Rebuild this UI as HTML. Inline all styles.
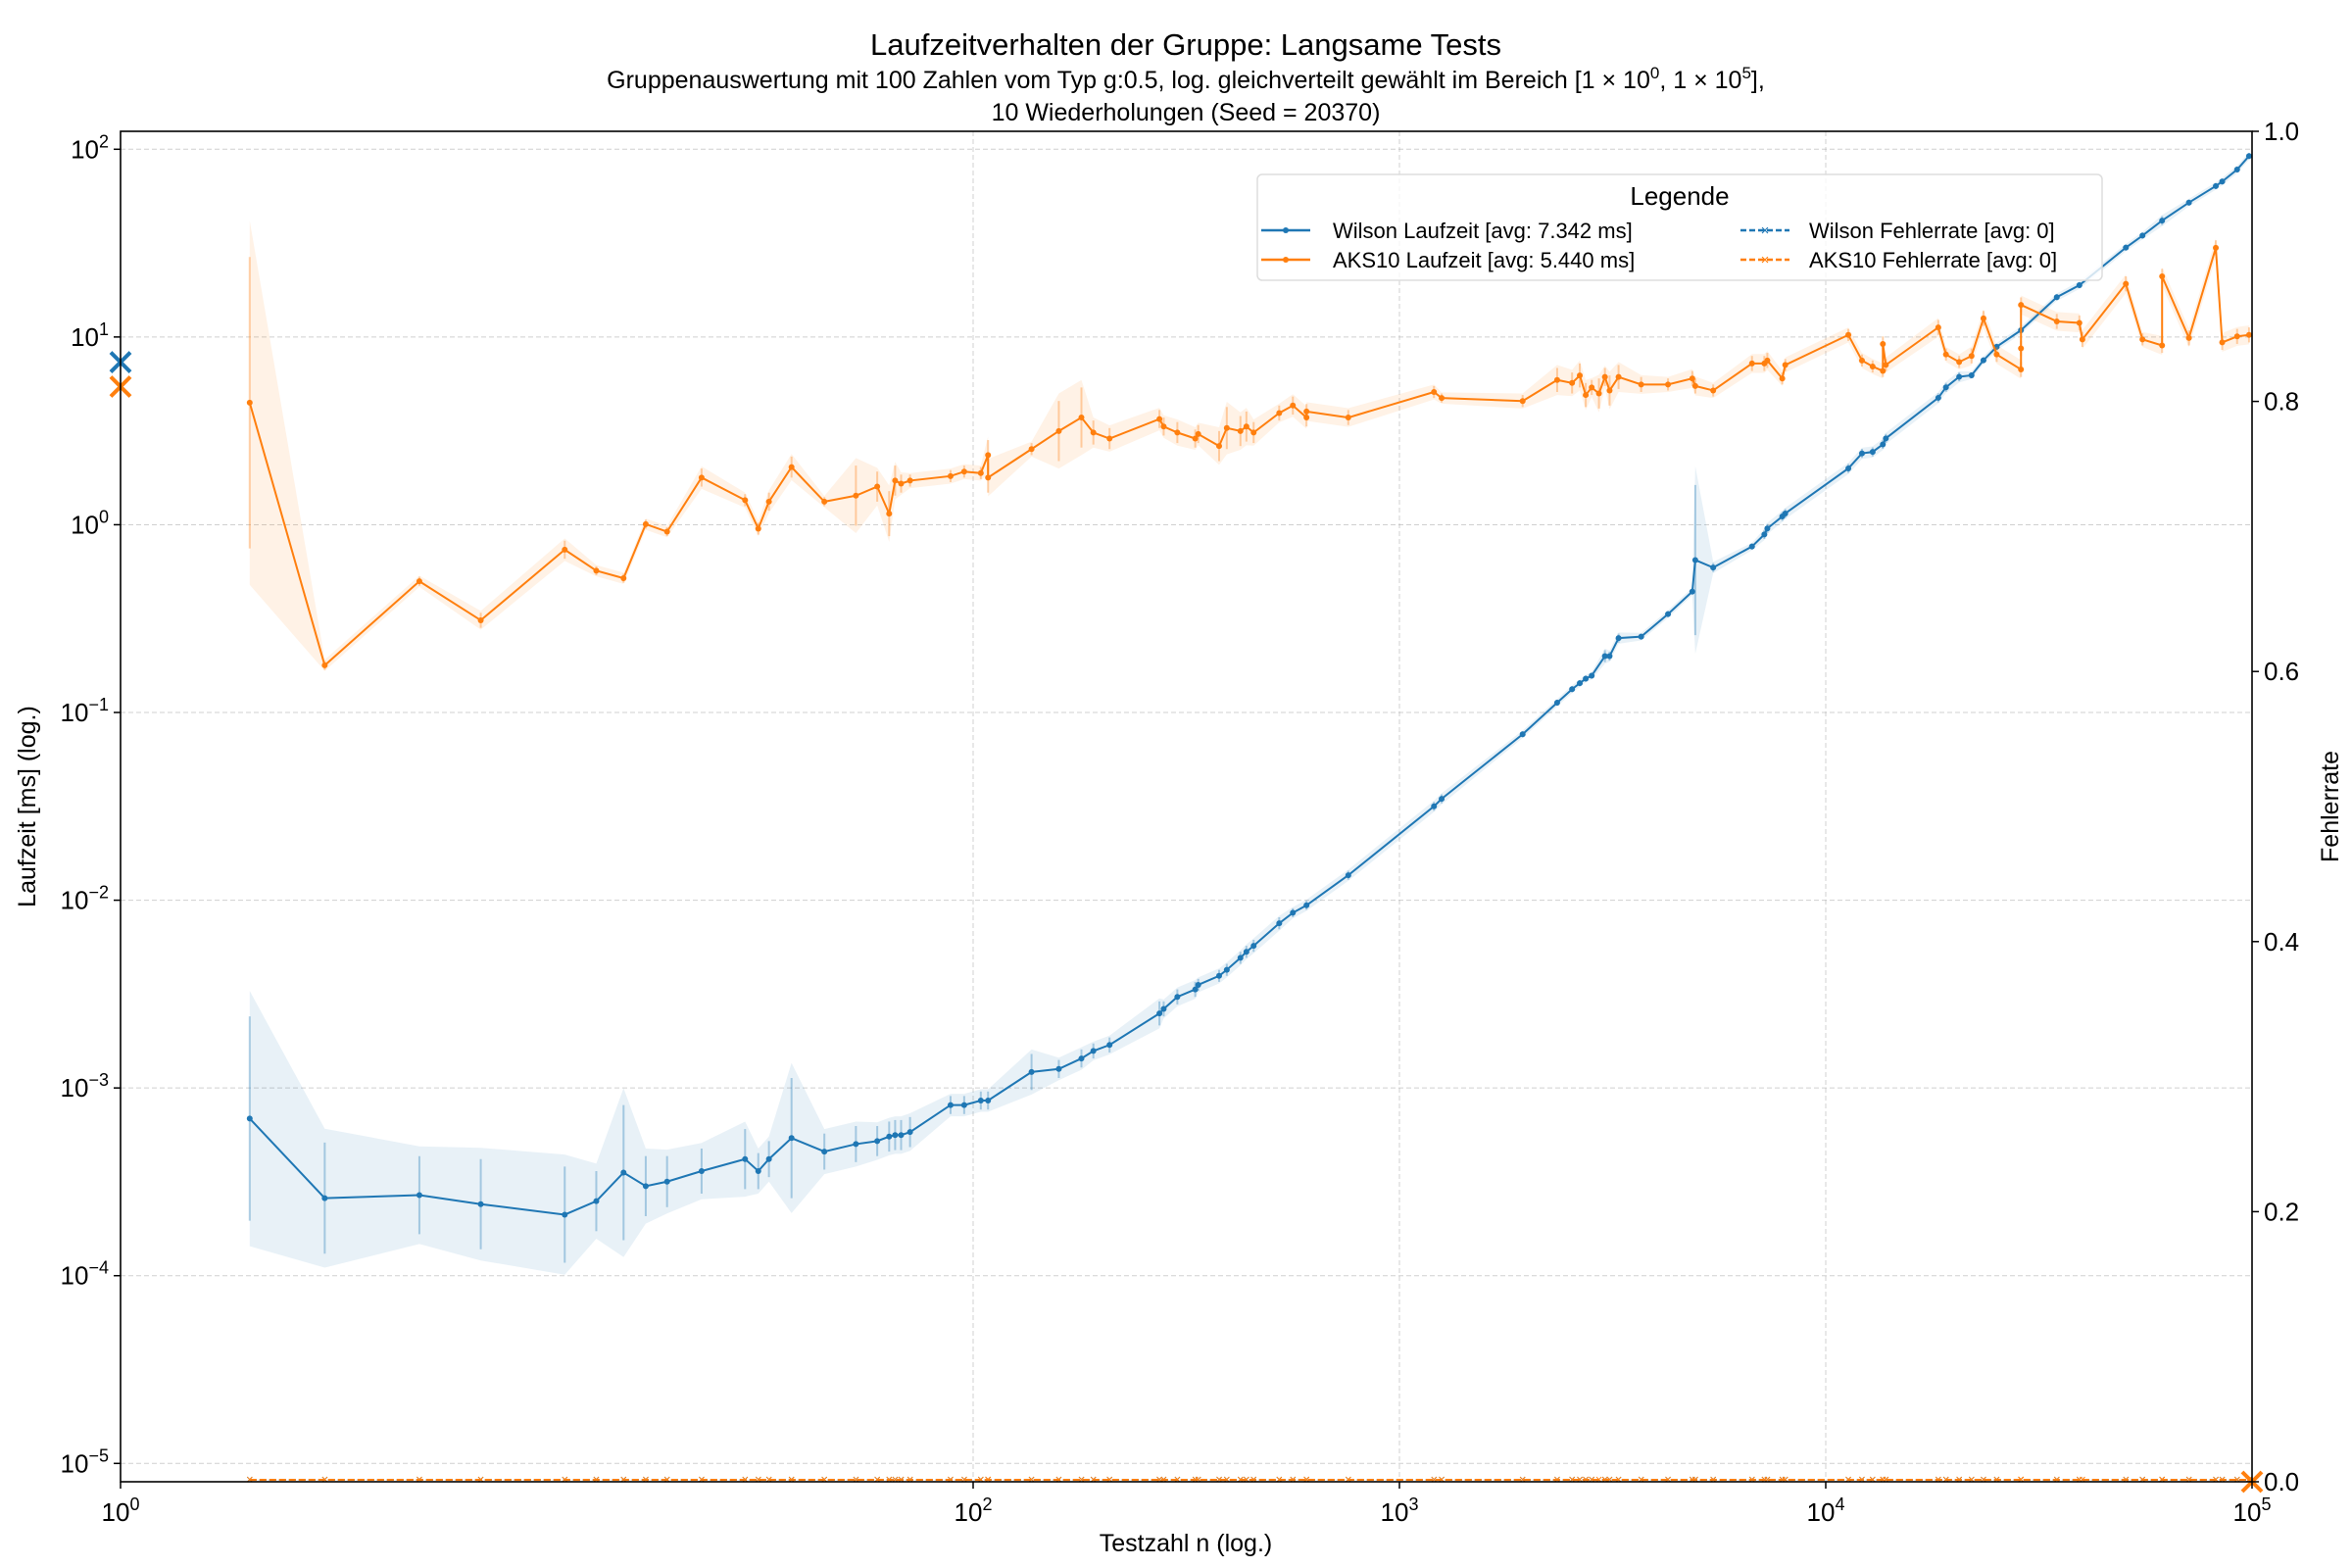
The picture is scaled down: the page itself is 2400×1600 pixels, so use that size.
<!DOCTYPE html>
<html><head><meta charset="utf-8"><style>
html,body{margin:0;padding:0;background:#fff}
svg{display:block;font-family:"Liberation Sans","DejaVu Sans",sans-serif}
</style></head><body>
<svg id="chart" width="2400" height="1600" viewBox="0 0 2400 1600" xmlns="http://www.w3.org/2000/svg">
<rect width="2400" height="1600" fill="#fff"/>
<text x="1210" y="56" text-anchor="middle" font-size="31">Laufzeitverhalten der Gruppe: Langsame Tests</text>
<text x="1210" y="90" text-anchor="middle" font-size="25">Gruppenauswertung mit 100 Zahlen vom Typ g:0.5, log. gleichverteilt gewählt im Bereich [1 × 10<tspan dy="-10" font-size="17">0</tspan><tspan dy="10">, 1 × 10</tspan><tspan dy="-10" font-size="17">5</tspan><tspan dy="10">],</tspan></text>
<text x="1210" y="123" text-anchor="middle" font-size="25">10 Wiederholungen (Seed = 20370)</text>
<g id="grid"></g>
<g id="bands"></g>
<g id="series"></g>
<g id="axes"></g>
<text x="1210" y="1583" text-anchor="middle" font-size="25">Testzahl n (log.)</text>
<text transform="translate(36,823) rotate(-90)" text-anchor="middle" font-size="25">Laufzeit [ms] (log.)</text>
<text transform="translate(2386,823) rotate(-90)" text-anchor="middle" font-size="25">Fehlerrate</text>
<g id="legend">
<rect x="1283" y="178" width="862" height="108" rx="5" fill="#fff" fill-opacity="0.8" stroke="#ddd" stroke-width="1.5"/>
<text x="1714" y="209" text-anchor="middle" font-size="26">Legende</text>
<g><line x1="1287" y1="235" x2="1337" y2="235" stroke="#1f77b4" stroke-width="2.5"/><circle cx="1312" cy="235" r="3" fill="#1f77b4"/><text x="1360" y="243" font-size="22">Wilson Laufzeit [avg: 7.342 ms]</text></g>
<g><line x1="1287" y1="265" x2="1337" y2="265" stroke="#ff7f0e" stroke-width="2.5"/><circle cx="1312" cy="265" r="3" fill="#ff7f0e"/><text x="1360" y="273" font-size="22">AKS10 Laufzeit [avg: 5.440 ms]</text></g>
<g><line x1="1776" y1="235" x2="1826" y2="235" stroke="#1f77b4" stroke-width="2.5" stroke-dasharray="6,3"/><text x="1801" y="240" text-anchor="middle" font-size="15" fill="#1f77b4">×</text><text x="1846" y="243" font-size="22">Wilson Fehlerrate [avg: 0]</text></g>
<g><line x1="1776" y1="265" x2="1826" y2="265" stroke="#ff7f0e" stroke-width="2.5" stroke-dasharray="6,3"/><text x="1801" y="270" text-anchor="middle" font-size="15" fill="#ff7f0e">×</text><text x="1846" y="273" font-size="22">AKS10 Fehlerrate [avg: 0]</text></g>
</g>
</svg>
<script>
// ---- data (log10 of n, log10 of ms) ----
const wilsonLogN=[0.303,0.479,0.701,0.845,1.042,1.116,1.18,1.232,1.282,1.363,1.465,1.496,1.521,1.574,1.651,1.725,1.775,1.803,1.817,1.831,1.852,1.947,1.979,2.018,2.035,2.137,2.201,2.254,2.282,2.32,2.437,2.447,2.479,2.521,2.528,2.577,2.595,2.627,2.641,2.658,2.718,2.75,2.782,2.88,3.081,3.099,3.289,3.37,3.405,3.423,3.437,3.451,3.482,3.493,3.514,3.567,3.63,3.687,3.694,3.736,3.827,3.856,3.863,3.898,3.905,4.053,4.085,4.11,4.134,4.141,4.264,4.282,4.313,4.342,4.37,4.401,4.458,4.542,4.595,4.704,4.743,4.789,4.852,4.915,4.93,4.965,4.993];
const wilsonLogMs=[-3.163,-3.587,-3.571,-3.619,-3.675,-3.603,-3.451,-3.523,-3.499,-3.443,-3.379,-3.443,-3.379,-3.267,-3.339,-3.299,-3.283,-3.259,-3.251,-3.251,-3.235,-3.091,-3.091,-3.067,-3.067,-2.915,-2.899,-2.843,-2.803,-2.771,-2.603,-2.579,-2.515,-2.475,-2.451,-2.403,-2.371,-2.307,-2.275,-2.243,-2.123,-2.067,-2.027,-1.867,-1.5,-1.46,-1.116,-0.948,-0.876,-0.844,-0.82,-0.804,-0.7,-0.7,-0.604,-0.596,-0.476,-0.356,-0.188,-0.228,-0.116,-0.052,-0.02,0.044,0.06,0.3,0.38,0.388,0.428,0.46,0.676,0.732,0.788,0.796,0.876,0.948,1.036,1.212,1.276,1.476,1.54,1.62,1.716,1.804,1.828,1.892,1.964];
const aksLogN=[0.303,0.479,0.701,0.845,1.042,1.116,1.18,1.232,1.282,1.363,1.465,1.496,1.521,1.574,1.651,1.725,1.775,1.803,1.817,1.831,1.852,1.947,1.979,2.018,2.035,2.035,2.137,2.201,2.254,2.282,2.32,2.437,2.447,2.479,2.521,2.528,2.577,2.595,2.627,2.641,2.658,2.718,2.75,2.782,2.782,2.88,3.081,3.099,3.289,3.37,3.405,3.423,3.437,3.451,3.468,3.482,3.493,3.514,3.567,3.63,3.687,3.694,3.736,3.827,3.856,3.863,3.898,3.905,4.053,4.085,4.11,4.134,4.134,4.141,4.264,4.282,4.313,4.342,4.37,4.401,4.458,4.458,4.458,4.542,4.595,4.602,4.704,4.743,4.789,4.789,4.852,4.915,4.93,4.965,4.993];
const aksLogMs=[0.65,-0.749,-0.301,-0.509,-0.133,-0.245,-0.285,0.003,-0.037,0.251,0.131,-0.021,0.123,0.307,0.123,0.155,0.203,0.059,0.235,0.219,0.235,0.259,0.283,0.275,0.371,0.251,0.403,0.499,0.571,0.491,0.459,0.563,0.523,0.491,0.459,0.483,0.419,0.515,0.499,0.523,0.491,0.595,0.635,0.571,0.603,0.571,0.707,0.675,0.659,0.771,0.755,0.795,0.691,0.731,0.699,0.787,0.715,0.787,0.747,0.747,0.779,0.739,0.715,0.859,0.859,0.875,0.779,0.851,1.011,0.875,0.843,0.819,0.963,0.851,1.051,0.907,0.867,0.899,1.099,0.907,0.827,0.939,1.171,1.083,1.075,0.987,1.283,0.987,0.955,1.323,0.995,1.475,0.971,1.003,1.011];
// band half-widths (log10 units) per point, estimated from the shaded areas
const wilsonSpread=[0.68,0.37,0.26,0.30,0.32,0.20,0.45,0.20,0.17,0.15,0.2,0.12,0.12,0.4,0.12,0.12,0.1,0.1,0.1,0.1,0.1,0.06,0.06,0.06,0.06,0.12,0.06,0.06,0.05,0.05,0.08,0.05,0.05,0.05,0.04,0.04,0.04,0.04,0.04,0.04,0.04,0.03,0.03,0.03,0.03,0.03,0.02,0.02,0.02,0.02,0.02,0.02,0.04,0.03,0.03,0.02,0.02,0.02,0.5,0.03,0.02,0.03,0.03,0.03,0.03,0.03,0.03,0.03,0.03,0.03,0.03,0.03,0.03,0.02,0.02,0.02,0.02,0.02,0.02,0.02,0.02,0.03,0.02,0.02,0.02,0.02,0.02];
const aksSpread=[0.97,0.03,0.03,0.05,0.06,0.03,0.03,0.03,0.03,0.06,0.04,0.04,0.06,0.07,0.03,0.2,0.1,0.15,0.1,0.06,0.04,0.04,0.04,0.04,0.1,0.1,0.04,0.2,0.2,0.08,0.07,0.06,0.06,0.07,0.06,0.06,0.1,0.14,0.1,0.1,0.07,0.05,0.06,0.06,0.05,0.05,0.04,0.03,0.04,0.08,0.07,0.08,0.08,0.05,0.1,0.06,0.1,0.08,0.05,0.04,0.05,0.05,0.04,0.05,0.05,0.05,0.04,0.04,0.04,0.04,0.04,0.04,0.05,0.04,0.05,0.04,0.04,0.05,0.05,0.05,0.05,0.05,0.05,0.05,0.05,0.05,0.05,0.04,0.05,0.05,0.05,0.05,0.05,0.05,0.05];
const wilsonAvg=7.342, aksAvg=5.440;
const xTickExp=[0,2,3,4,5];
const yTickExp=[-5,-4,-3,-2,-1,0,1,2];
const y2Ticks=["0.0","0.2","0.4","0.6","0.8","1.0"];

// ---- axes ----
const L=123,R=2298,T=134,B=1512;
const X=l=>L+(l-0)*(R-L)/5;
const Y=l=>152.3+(2-l)*191.57;
const Y2=v=>B-v*(B-T);
const NS="http://www.w3.org/2000/svg";
function mk(tag,parent,attrs){const e=document.createElementNS(NS,tag);for(const k in attrs)e.setAttribute(k,attrs[k]);parent.appendChild(e);return e;}
const grid=document.getElementById('grid'),bands=document.getElementById('bands'),ser=document.getElementById('series'),axes=document.getElementById('axes');

xTickExp.forEach(k=>{const g=mk('line',grid,{x1:X(k),x2:X(k),y1:T,y2:B,stroke:'#b0b0b0','stroke-width':1,'stroke-dasharray':'5,3','stroke-opacity':0.6});

});
yTickExp.forEach(k=>{const g=mk('line',grid,{x1:L,x2:R,y1:Y(k),y2:Y(k),stroke:'#b0b0b0','stroke-width':1,'stroke-dasharray':'5,3','stroke-opacity':0.6});

});

function drawSeries(ln,lm,sp,color,name){
  let up='',dn='';
  ln.forEach((n,i)=>{up+=(i?'L':'M')+X(n)+','+Y(lm[i]+sp[i]);});
  for(let i=ln.length-1;i>=0;i--)dn+='L'+X(ln[i])+','+Math.min(B,Y(lm[i]-sp[i]));
  const b=mk('path',bands,{d:up+dn+'Z',fill:color,'fill-opacity':0.1});
  
  
  ln.forEach((n,i)=>{const e=mk('line',ser,{x1:X(n),x2:X(n),y1:Y(lm[i]+sp[i]*0.8),y2:Math.min(B,Y(lm[i]-sp[i]*0.8)),stroke:color,'stroke-opacity':0.35,'stroke-width':2});
    
    });
  let d='';ln.forEach((n,i)=>{d+=(i?'L':'M')+X(n)+','+Y(lm[i]);});
  const p=mk('path',ser,{d:d,fill:'none',stroke:color,'stroke-width':2});
  
  
  ln.forEach((n,i)=>{const c=mk('circle',ser,{cx:X(n),cy:Y(lm[i]),r:3,fill:color});
    
    });
  const f=mk('line',ser,{x1:X(ln[0]),x2:R,y1:Y2(0)-2,y2:Y2(0)-2,stroke:color,'stroke-width':2,'stroke-dasharray':'7,3'});
  
  
  ln.forEach(n=>{const t=mk('text',ser,{x:X(n),y:Y2(0)+2,'text-anchor':'middle','font-size':13,fill:color});t.textContent='×';
    
    });
}
drawSeries(wilsonLogN,wilsonLogMs,wilsonSpread,'#1f77b4','wilson');
drawSeries(aksLogN,aksLogMs,aksSpread,'#ff7f0e','aks10');

[[wilsonAvg,'#1f77b4','wilson-avg-marker'],[aksAvg,'#ff7f0e','aks10-avg-marker']].forEach(a=>{
  const y=Y(Math.log10(a[0]));const g=mk('path',ser,{d:`M${L-10},${y-10}L${L+10},${y+10}M${L-10},${y+10}L${L+10},${y-10}`,stroke:a[1],'stroke-width':4});
  
  });
const eg=mk('path',ser,{d:`M${R-10},${B-10}L${R+10},${B+10}M${R-10},${B+10}L${R+10},${B-10}`,stroke:'#ff7f0e','stroke-width':4});



const fr=mk('rect',axes,{x:L,y:T,width:R-L,height:B-T,fill:'none',stroke:'#000','stroke-width':1.6});


xTickExp.forEach(k=>{
  mk('line',axes,{x1:X(k),x2:X(k),y1:B,y2:B+7,stroke:'#000','stroke-width':1.5});
  const t=mk('text',axes,{x:X(k),y:B+40,'text-anchor':'middle','font-size':26});
  t.innerHTML='10<tspan dy="-11" font-size="18">'+k+'</tspan>';
  
  });
yTickExp.forEach(k=>{
  mk('line',axes,{x1:L-7,x2:L,y1:Y(k),y2:Y(k),stroke:'#000','stroke-width':1.5});
  const t=mk('text',axes,{x:L-12,y:Y(k)+9,'text-anchor':'end','font-size':26});
  t.innerHTML='10<tspan dy="-11" font-size="18">'+(k<0?'−'+(-k):k)+'</tspan>';
  
  });
y2Ticks.forEach(s=>{const v=parseFloat(s);
  mk('line',axes,{x1:R,x2:R+7,y1:Y2(v),y2:Y2(v),stroke:'#000','stroke-width':1.5});
  const t=mk('text',axes,{x:R+12,y:Y2(v)+9,'font-size':26});t.textContent=s;
  
  });
</script>
</body></html>
